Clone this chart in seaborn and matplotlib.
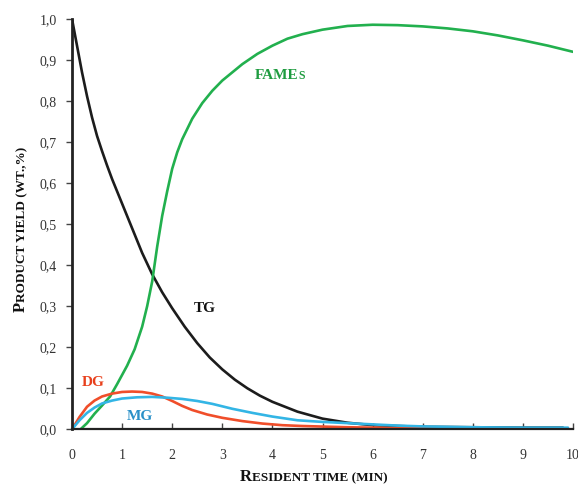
import matplotlib
matplotlib.use("Agg")
import matplotlib.pyplot as plt
import seaborn as sns
import pandas as pd
from matplotlib.ticker import FuncFormatter

# ---- data ----
tg_x = [0, 0.1, 0.2, 0.3, 0.4, 0.5, 0.6, 0.7, 0.8, 0.9, 1.0, 1.2, 1.4, 1.6, 1.8, 2.0, 2.25, 2.5, 2.75,
        3.0, 3.25, 3.5, 3.75, 4.0, 4.5, 5.0, 5.5, 6.0, 7.0, 8.0, 9.0, 9.8]
tg_y = [1.0, 0.935, 0.87, 0.812, 0.76, 0.715, 0.678, 0.643, 0.61, 0.58, 0.55, 0.49, 0.43, 0.378, 0.334,
        0.295, 0.25, 0.21, 0.175, 0.146, 0.121, 0.1, 0.082, 0.067, 0.043, 0.026, 0.016, 0.01, 0.006,
        0.005, 0.004, 0.004]

fame_x = [0.17, 0.3, 0.45, 0.6, 0.76, 0.9, 1.1, 1.25, 1.4, 1.5, 1.6, 1.7, 1.8, 1.9, 2.0, 2.1, 2.2, 2.4,
          2.6, 2.8, 3.0, 3.2, 3.4, 3.7, 4.0, 4.3, 4.6, 5.0, 5.5, 6.0, 6.5, 7.0, 7.5, 8.0, 8.5, 9.0, 9.5, 10.0]
fame_y = [0.0, 0.015, 0.038, 0.058, 0.08, 0.11, 0.155, 0.195, 0.25, 0.3, 0.36, 0.445, 0.52, 0.58, 0.635,
          0.675, 0.707, 0.757, 0.795, 0.825, 0.85, 0.87, 0.89, 0.915, 0.935, 0.952, 0.963, 0.974, 0.983,
          0.986, 0.985, 0.982, 0.977, 0.97, 0.96, 0.948, 0.935, 0.92]

dg_x = [0, 0.15, 0.3, 0.45, 0.6, 0.8, 1.0, 1.2, 1.4, 1.6, 1.8, 2.0, 2.2, 2.4, 2.7, 3.0, 3.4, 3.8,
        4.2, 4.6, 5.5, 6.5, 8.0, 9.0, 9.8]
dg_y = [0, 0.03, 0.055, 0.07, 0.08, 0.087, 0.091, 0.092, 0.091, 0.087, 0.08, 0.069, 0.057, 0.047, 0.036,
        0.028, 0.02, 0.014, 0.01, 0.008, 0.005, 0.003, 0.001, 0.0, -0.002]

mg_x = [0, 0.15, 0.3, 0.45, 0.6, 0.8, 1.0, 1.3, 1.6, 1.9, 2.2, 2.5, 2.8, 3.2, 3.6, 4.0, 4.5, 5.0, 5.5,
        6.0, 6.5, 7.0, 8.0, 9.0, 9.9]
mg_y = [0, 0.022, 0.04, 0.053, 0.063, 0.07, 0.075, 0.078, 0.079, 0.077, 0.074, 0.069, 0.062, 0.05, 0.04,
        0.031, 0.022, 0.018, 0.015, 0.012, 0.009, 0.007, 0.005, 0.004, 0.004]

x_ticks = list(range(0, 11))
y_ticks = [0.0, 0.1, 0.2, 0.3, 0.4, 0.5, 0.6, 0.7, 0.8, 0.9, 1.0]

series = {"TG": (tg_x, tg_y), "FAMEs": (fame_x, fame_y), "DG": (dg_x, dg_y), "MG": (mg_x, mg_y)}
df = pd.concat([pd.DataFrame({"time": xs, "yield": ys, "series": name}) for name, (xs, ys) in series.items()],
               ignore_index=True)

line_colors = {"TG": "#1c1c1c", "FAMEs": "#22b04e", "DG": "#f04e2a", "MG": "#33b5e5"}
text_colors = {"TG": "#111111", "FAMEs": "#1f9c40", "DG": "#e8401c", "MG": "#2a90c8"}
label_pos = {"TG": (2.65, 0.295), "DG": (0.42, 0.113), "MG": (1.36, 0.032)}

sns.set_theme(style="white")
plt.rcParams["font.family"] = ["Liberation Serif", "DejaVu Serif"]

W, H = 578, 484
fig = plt.figure(figsize=(W / 100, H / 100), dpi=100)
ax = fig.add_axes([72 / W, 1 - 429.3 / H, 501 / W, (429.3 - 19) / H])

sns.lineplot(data=df, x="time", y="yield", hue="series", palette=line_colors,
             linewidth=1.9, legend=False, ax=ax, sort=False, estimator=None)
for ln in ax.lines:
    ln.set_solid_joinstyle("round")
    ln.set_solid_capstyle("round")

ax.set_xlim(0, 10)
ax.set_ylim(0, 1.0)
ax.set_xticks(x_ticks)
ax.set_yticks(y_ticks)
ax.yaxis.set_major_formatter(FuncFormatter(lambda v, p: f"{v:.1f}".replace(".", ",")))
ax.set_xlabel("")
ax.set_ylabel("")

for s in ["top", "right"]:
    ax.spines[s].set_visible(False)
ax.spines["left"].set_color("#222222")
ax.spines["left"].set_linewidth(2.0)
ax.spines["bottom"].set_color("#222222")
ax.spines["bottom"].set_linewidth(1.6)
ax.spines["left"].set_zorder(5)

ax.tick_params(axis="y", direction="out", length=4, width=1.0, color="#444444",
               labelsize=10, labelcolor="#333333", pad=7, left=True)
ax.tick_params(axis="x", direction="in", length=4, width=1.0, color="#444444",
               labelsize=10, labelcolor="#333333", pad=14, bottom=True)

for name, (tx, ty) in label_pos.items():
    ax.text(tx, ty, name, color=text_colors[name], fontsize=11, fontweight="bold",
            ha="center", va="center")

fig.canvas.draw()
renderer = fig.canvas.get_renderer()


def px(xp, yp):
    return xp / W, 1 - yp / H


# FAMEs label with small-cap final S
tf = fig.text(*px(255, 79), "FAME", fontsize=11, fontweight="bold", color=text_colors["FAMEs"],
              ha="left", va="baseline")
wf = tf.get_window_extent(renderer).width
fig.text(*px(255 + wf - 0.5, 79), "S", fontsize=8.5, fontweight="bold", color=text_colors["FAMEs"],
         ha="left", va="baseline")

# x label (small caps)
t1 = fig.text(*px(240, 481), "R", fontsize=12, fontweight="bold", color="#111111",
              ha="left", va="baseline")
w1 = t1.get_window_extent(renderer).width
fig.text(*px(240 + w1, 481), "ESIDENT TIME (MIN)", fontsize=9.5, fontweight="bold",
         color="#111111", ha="left", va="baseline")

# y label (small caps)
t2 = fig.text(*px(25, 312), "P", fontsize=12, fontweight="bold", color="#111111",
              rotation=90, rotation_mode="anchor", ha="left", va="baseline")
h2 = t2.get_window_extent(renderer).height
fig.text(*px(25, 312 - h2), "RODUCT YIELD (WT.,%)", fontsize=9.5, fontweight="bold",
         color="#111111", rotation=90, rotation_mode="anchor", ha="left", va="baseline")

fig.savefig("out.png", dpi=100, facecolor="white")
